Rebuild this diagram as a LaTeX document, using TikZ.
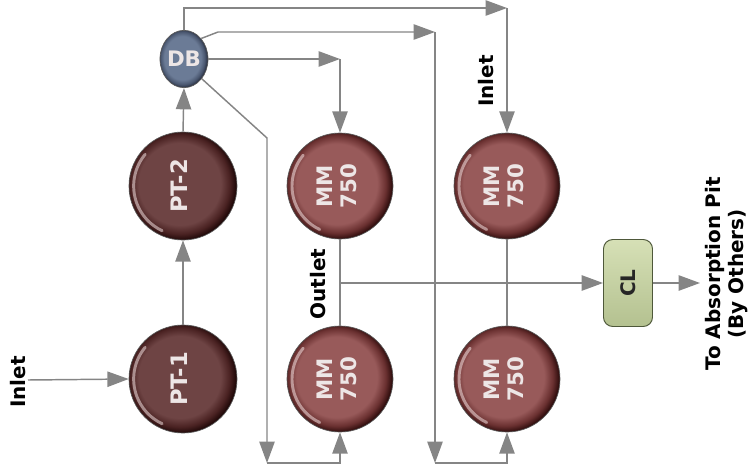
\documentclass[tikz,border=0pt]{standalone}
\usepackage{fontspec}
\setmainfont{DejaVu Sans}
\usepackage{graphicx}
\usetikzlibrary{arrows.meta,shapes.geometric}
\definecolor{linegray}{HTML}{858585}
\definecolor{mmbase}{HTML}{985A5A}
\definecolor{mmdark}{HTML}{6A3030}
\definecolor{mmrim}{HTML}{2A0A0A}
\definecolor{ptbase}{HTML}{6E4444}
\definecolor{ptdark}{HTML}{4A2222}
\definecolor{ptrim}{HTML}{1C0606}
\definecolor{dbbase}{HTML}{6B7B96}
\definecolor{dbdark}{HTML}{4A5770}
\definecolor{dbrim}{HTML}{242A3A}
\definecolor{clfilltop}{HTML}{D6E0B6}
\definecolor{clfillbot}{HTML}{B4C190}
\definecolor{cledge}{HTML}{4E583A}
\definecolor{nodetext}{HTML}{EDE6E6}
\pgfdeclareradialshading{mmball}{\pgfpoint{-2.5bp}{1.5bp}}{color(0bp)=(mmbase); color(19bp)=(mmbase); color(23bp)=(mmdark); color(26bp)=(mmrim); color(50bp)=(mmrim)}
\pgfdeclareradialshading{ptball}{\pgfpoint{-2.5bp}{1.5bp}}{color(0bp)=(ptbase); color(19bp)=(ptbase); color(23bp)=(ptdark); color(26bp)=(ptrim); color(50bp)=(ptrim)}
\pgfdeclareradialshading{dbball}{\pgfpoint{-2.5bp}{1.5bp}}{color(0bp)=(dbbase); color(19bp)=(dbbase); color(23bp)=(dbdark); color(26bp)=(dbrim); color(50bp)=(dbrim)}
\newcommand\rtxt[1]{\rotatebox{90}{\begin{tabular}{@{}c@{}}#1\end{tabular}}}
\newcommand\hilite[2]{\draw[white!75!pink, opacity=0.5, line width=2.2pt, line cap=round] (#1.center) ++(140:#2) arc[start angle=140, end angle=245, radius=#2];}
\tikzset{
  ball/.style={draw=black!65, line width=0.5pt, text=nodetext, inner sep=0pt,
    font=\bfseries\fontsize{16}{18}\selectfont},
  mmnode/.style={ball, circle, shade, shading=mmball, minimum size=79.5pt},
  ptnode/.style={ball, circle, shade, shading=ptball, minimum size=81pt, font=\bfseries\fontsize{17}{18}\selectfont},
  dbnode/.style={ball, ellipse, shade, shading=dbball, minimum width=35pt, minimum height=43pt},
  clnode/.style={rectangle, rounded corners=7pt, draw=cledge, line width=0.7pt,
    top color=clfilltop, bottom color=clfillbot, minimum width=36.75pt, minimum height=65.25pt,
    inner sep=0pt, font=\bfseries\fontsize{15}{18}\selectfont, text=black!85},
  lbl/.style={font=\bfseries\fontsize{15}{17.25}\selectfont, text=black, inner sep=0pt},
  conn/.style={draw=linegray, line width=1.1pt},
  arr/.style={conn, -{Triangle[length=16pt,width=11.5pt]}},
}
\begin{document}
\begin{tikzpicture}[x=0.75pt,y=-0.75pt]
\useasboundingbox (0,0) rectangle (751,472);
% nodes
\node[ptnode] (pt1) at (183,379) {\rtxt{PT-1}};
\node[ptnode] (pt2) at (183,186) {\rtxt{PT-2}};
\node[mmnode] (mm1) at (340,186) {\rtxt{MM\\750}};
\node[mmnode] (mm2) at (507,186) {\rtxt{MM\\750}};
\node[mmnode] (mm3) at (340,379) {\rtxt{MM\\750}};
\node[mmnode] (mm4) at (507,379) {\rtxt{MM\\750}};
\node[dbnode] (db) at (184,59) {DB};
\node[clnode] (cl) at (628,283) {\rotatebox{90}{CL}};
\hilite{pt1}{37pt}
\hilite{pt2}{37pt}
\hilite{mm1}{36pt}
\hilite{mm2}{36pt}
\hilite{mm3}{36pt}
\hilite{mm4}{36pt}
% labels
\node[lbl] (inletL) at (18,382) {\rotatebox{90}{Inlet}};
\node[lbl] (inletT) at (486,81) {\rotatebox{90}{Inlet}};
\node[lbl] (outletL) at (318,284) {\rotatebox{90}{Outlet}};
\node[lbl] (pitL) at (727,274) {\rtxt{To Absorption Pit\\(By Others)}};
% coordinates
\coordinate (inS) at (28,380);
\coordinate (c1) at (507,8);
\coordinate (k1) at (218,32);
\coordinate (c2) at (435,32);
\coordinate (c3) at (435,463);
\coordinate (c4) at (db.east -| mm1.north);
\coordinate (k2) at (267,138);
\coordinate (c5) at (267,463);
\coordinate (br) at (mm1.south |- cl.west);
\coordinate (outE) at (700,283);
% connectors
\draw[arr] (inS) -- (pt1.west);
\draw[arr] (pt1.north) -- (pt2.south);
\draw[arr] (pt2.north) -- (db.south);
\draw[arr] (db.north) |- (c1);
\draw[arr] (c1) -- (mm2.north);
\draw[arr] (db.50) -- (k1) -- (c2);
\draw[arr] (c2) -- (c3);
\draw[arr] (c3) -| (mm4.south);
\draw[arr] (db.east) -- (c4);
\draw[arr] (c4) -- (mm1.north);
\draw[arr] (db.-48) -- (k2) -- (c5);
\draw[arr] (c5) -| (mm3.south);
\draw[conn] (mm1.south) -- (mm3.north);
\draw[conn] (mm2.south) -- (mm4.north);
\draw[arr] (br) -- (cl.west);
\draw[arr] (cl.east) -- (outE);
\end{tikzpicture}
\end{document}
